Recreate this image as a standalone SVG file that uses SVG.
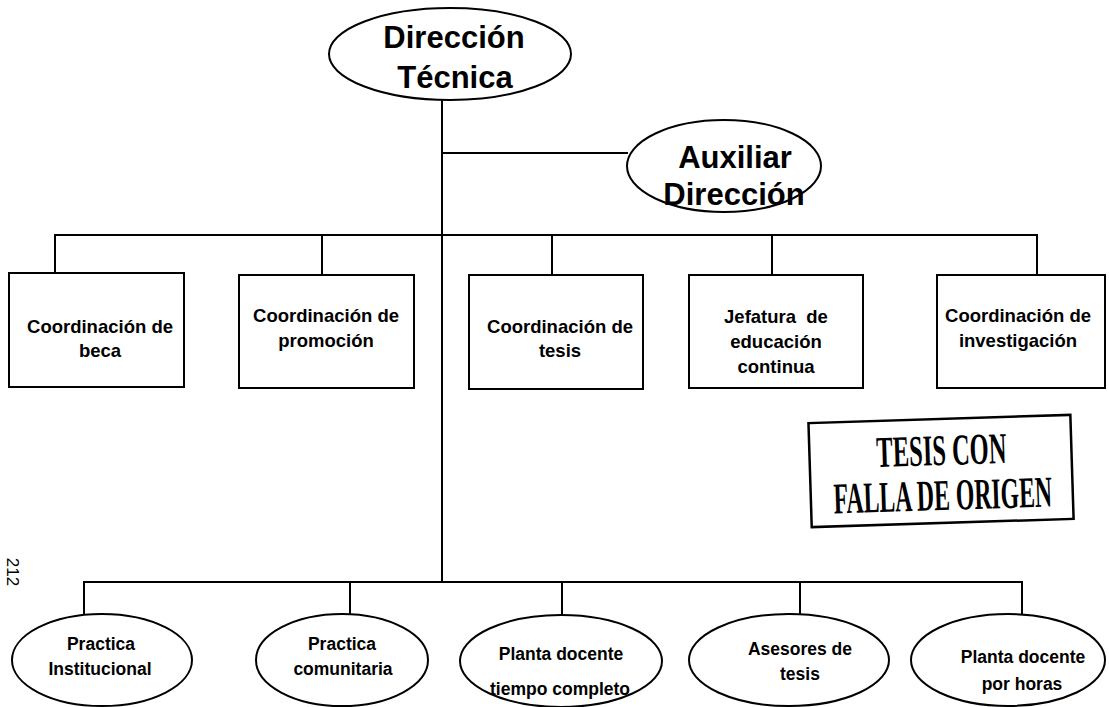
<svg xmlns="http://www.w3.org/2000/svg" width="1109" height="707" viewBox="0 0 1109 707">
<style>
.ln{stroke:#000;stroke-width:2;fill:none}
.sh{stroke:#000;stroke-width:2;fill:#fff}
.t{font-family:"Liberation Sans",Arial,sans-serif;font-weight:bold;fill:#000;text-anchor:middle}
.big{font-size:31px}
.bx{font-size:18.5px}
.el{font-size:17.5px}
.st{font-family:"Liberation Serif","Times New Roman",serif;font-weight:bold;font-size:44px;fill:#000;text-anchor:middle}
</style>
<rect width="1109" height="707" fill="#fff"/>
<g id="connectors" class="ln">
<line x1="442" y1="100" x2="442" y2="582"/>
<line x1="442" y1="153" x2="628" y2="153"/>
<polyline points="55,273 55,235 1037,235 1037,275"/>
<line x1="322" y1="235" x2="322" y2="275"/>
<line x1="552" y1="235" x2="552" y2="275"/>
<line x1="772" y1="235" x2="772" y2="275"/>
<polyline points="84,615 84,582 1022,582 1022,615"/>
<line x1="350" y1="582" x2="350" y2="614"/>
<line x1="562" y1="582" x2="562" y2="615"/>
<line x1="800" y1="582" x2="800" y2="615"/>
</g>
<g id="direccion-tecnica">
<ellipse class="sh" cx="450" cy="54" rx="121" ry="46"/>
<text class="t big" x="454" y="48">Dirección</text>
<text class="t big" x="455" y="88">Técnica</text>
</g>
<g id="auxiliar-direccion">
<ellipse class="sh" cx="724" cy="166" rx="97" ry="46"/>
<text class="t big" x="735" y="168">Auxiliar</text>
<text class="t big" x="734" y="205">Dirección</text>
</g>
<g id="coord-beca">
<rect class="sh" x="9" y="273" width="175" height="114"/>
<text class="t bx" x="100" y="333">Coordinación de</text>
<text class="t bx" x="100" y="357">beca</text>
</g>
<g id="coord-promocion">
<rect class="sh" x="239" y="275" width="175" height="113"/>
<text class="t bx" x="326" y="322">Coordinación de</text>
<text class="t bx" x="326" y="347">promoción</text>
</g>
<g id="coord-tesis">
<rect class="sh" x="469" y="275" width="174" height="114"/>
<text class="t bx" x="560" y="333">Coordinación de</text>
<text class="t bx" x="560" y="357">tesis</text>
</g>
<g id="jefatura-educacion">
<rect class="sh" x="689" y="275" width="174" height="113"/>
<text class="t bx" x="776" y="323" xml:space="preserve">Jefatura  de</text>
<text class="t bx" x="776" y="348">educación</text>
<text class="t bx" x="776" y="373">continua</text>
</g>
<g id="coord-investigacion">
<rect class="sh" x="937" y="275" width="168" height="113"/>
<text class="t bx" x="1018" y="322">Coordinación de</text>
<text class="t bx" x="1018" y="347">investigación</text>
</g>
<g id="stamp" transform="rotate(-1.8 941 470)">
<rect x="810" y="419" width="262" height="104" fill="none" stroke="#000" stroke-width="2.5"/>
<text class="st" transform="translate(942 465) scale(0.557 1)">TESIS CON</text>
<text class="st" transform="translate(942 510) scale(0.54 1)">FALLA DE ORIGEN</text>
</g>
<text id="page-number" x="0" y="0" transform="translate(7 572) rotate(90)" font-family="Liberation Sans,Arial,sans-serif" font-size="17" text-anchor="middle">212</text>
<g id="practica-institucional">
<ellipse class="sh" cx="102" cy="660" rx="90" ry="46"/>
<text class="t el" x="101" y="650">Practica</text>
<text class="t el" x="100" y="675">Institucional</text>
</g>
<g id="practica-comunitaria">
<ellipse class="sh" cx="342" cy="660" rx="86" ry="46"/>
<text class="t el" x="342" y="650">Practica</text>
<text class="t el" x="343" y="675">comunitaria</text>
</g>
<g id="planta-tiempo-completo">
<ellipse class="sh" cx="561" cy="661" rx="101" ry="46"/>
<text class="t el" x="561" y="660">Planta docente</text>
<text class="t el" x="560" y="695">tiempo completo</text>
</g>
<g id="asesores-tesis">
<ellipse class="sh" cx="789" cy="660" rx="100" ry="46"/>
<text class="t el" x="800" y="655">Asesores de</text>
<text class="t el" x="800" y="680">tesis</text>
</g>
<g id="planta-por-horas">
<ellipse class="sh" cx="1008" cy="660" rx="97" ry="46"/>
<text class="t el" x="1023" y="663">Planta docente</text>
<text class="t el" x="1022" y="690">por horas</text>
</g>
</svg>
